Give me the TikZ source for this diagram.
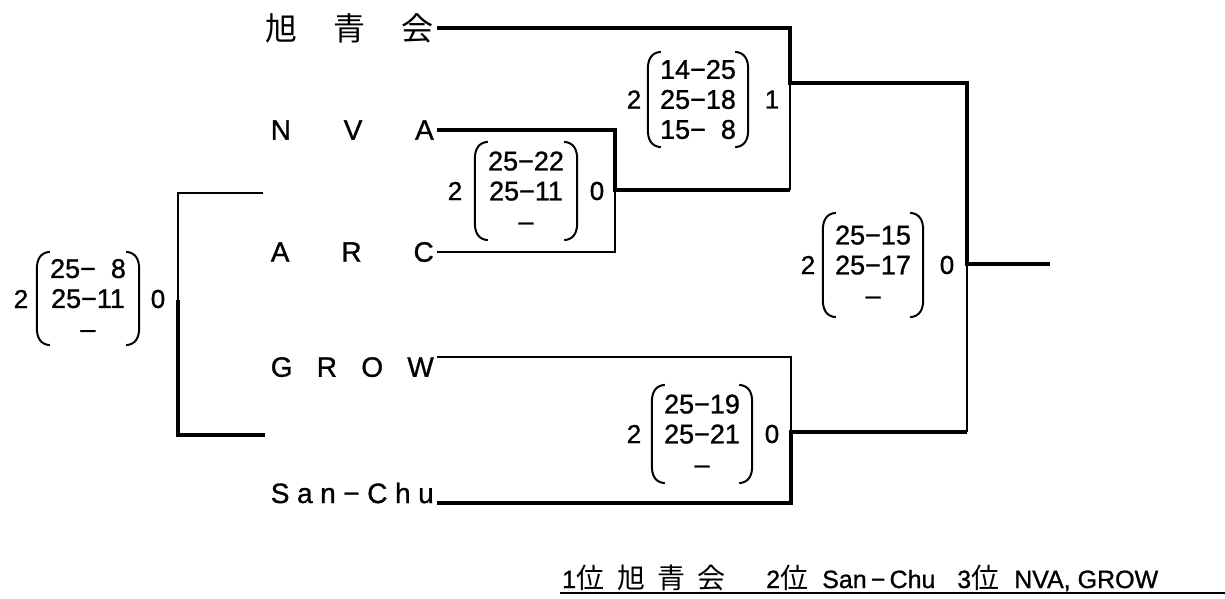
\documentclass[tikz,border=0pt]{standalone}
\usepackage{fontspec}
\setmainfont{Liberation Sans}[FakeBold=1]
\newfontfamily\jp{Noto Sans CJK JP}
\tikzset{
  wline/.style={line width=4pt, line join=miter},
  lline/.style={line width=1.8pt, line join=miter},
  paren/.style={line width=2pt},
  team/.style={inner xsep=3pt, inner ysep=0pt, font=\fontsize{28}{28}\selectfont},
  rows/.style={inner sep=0pt, align=center, font=\fontsize{27}{30}\selectfont},
  sc/.style={inner sep=0pt, font=\fontsize{26}{26}\selectfont},
  btm/.style={inner sep=0pt, anchor=base west, font=\fontsize{25}{25}\selectfont},
}
\newcommand\parens[1]{%
  \draw[paren] ([xshift=13pt]#1.north west) .. controls ([xshift=3pt,yshift=-1pt]#1.north west) and ([yshift=-8pt]#1.north west) .. ([yshift=-18pt]#1.north west) -- ([yshift=18pt]#1.south west) .. controls ([yshift=8pt]#1.south west) and ([xshift=3pt,yshift=1pt]#1.south west) .. ([xshift=13pt]#1.south west);
  \draw[paren] ([xshift=-13pt]#1.north east) .. controls ([xshift=-3pt,yshift=-1pt]#1.north east) and ([yshift=-8pt]#1.north east) .. ([yshift=-18pt]#1.north east) -- ([yshift=18pt]#1.south east) .. controls ([yshift=8pt]#1.south east) and ([xshift=-3pt,yshift=1pt]#1.south east) .. ([xshift=-13pt]#1.south east);}
\begin{document}
\begin{tikzpicture}[x=1pt,y=-1pt]
\useasboundingbox (0,0) rectangle (1225,599);
% teams
\node[team, anchor=east, font=\jp\fontsize{32}{32}\selectfont] (t1) at (437,28) {\makebox[168pt][s]{旭\hfill 青\hfill 会}};
\node[team, anchor=east] (t2) at (437,130) {\makebox[163pt][s]{N\hfill V\hfill A}};
\node[team, anchor=east] (t3) at (437,252) {\makebox[163pt][s]{A\hfill R\hfill C}};
\node[team, anchor=north east] (t4) at (437,357) {\makebox[163pt][s]{G\hfill R\hfill O\hfill W}};
\node[team, anchor=base east] (t5) at (437,503) {\makebox[163pt][s]{S\hfill a\hfill n\hfill −\hfill C\hfill h\hfill u}};
% junctions
\coordinate (qw) at (615,190);
\coordinate (s1j) at (790,83);
\coordinate (s2j) at (791,432);
\coordinate (fj) at (967,264);
\coordinate (champ) at (1050,264);
\coordinate (p3top) at (263,193);
\coordinate (p3bot) at (265,435);
\coordinate (p3j) at (178,300);
% connectors
\draw[lline] (t3.east) -| (qw);
\draw[wline] (t2.east) -| (qw) -- (qw -| s1j);
\draw[lline] (qw -| s1j) -- (s1j);
\draw[wline] (t1.east) -| (s1j) -- (s1j -| fj) -- (fj) -- (champ);
\draw[lline] (t4.north east) -| (s2j);
\draw[wline] (t5.base east) -| (s2j) -- (s2j -| fj);
\draw[lline] (s2j -| fj) -- (fj);
\draw[lline] (p3top) -| (p3j);
\draw[wline] (p3bot) -| (p3j);
% scores
\node[rows, minimum width=102pt, minimum height=93pt] (m3) at (88,298.5) {25−\hphantom{0}8\\25−11\\–};
\node[sc] (m3l) at (21,299) {2};
\node[sc] (m3r) at (158,299) {0};
\parens{m3}
\node[rows, minimum width=102pt, minimum height=98pt] (mq) at (526,191) {25−22\\25−11\\–};
\node[sc] (mql) at (455,191) {2};
\node[sc] (mqr) at (597,191) {0};
\parens{mq}
\node[rows, minimum width=100pt, minimum height=95pt] (ms1) at (698,99.5) {14−25\\25−18\\15−\hphantom{0}8};
\node[sc] (ms1l) at (634,99.5) {2};
\node[sc] (ms1r) at (772,99.5) {1};
\parens{ms1}
\node[rows, minimum width=100pt, minimum height=104pt] (mf) at (873,265) {25−15\\25−17\\–};
\node[sc] (mfl) at (808,265) {2};
\node[sc] (mfr) at (947,265) {0};
\parens{mf}
\node[rows, minimum width=100pt, minimum height=98pt] (ms2) at (702,434) {25−19\\25−21\\–};
\node[sc] (ms2l) at (634,434) {2};
\node[sc] (ms2r) at (772,434) {0};
\parens{ms2}
% bottom ranking
\node[btm] (b1) at (562,588) {1{\jp\fontsize{28}{28}\selectfont 位}};
\node[btm] (b2) at (617,588) {\jp\fontsize{28}{28}\selectfont\makebox[108pt][s]{旭\hfill 青\hfill 会}};
\node[btm] (b3) at (766,588) {2{\jp\fontsize{28}{28}\selectfont 位}};
\node[btm] (b4) at (822,588) {San\,−\,Chu};
\node[btm] (b5) at (957,588) {3{\jp\fontsize{28}{28}\selectfont 位}};
\node[btm] (b6) at (1014,588) {NVA, GROW};
\coordinate (ul1) at (560,593);
\coordinate (ul2) at (1225,593);
\draw[line width=1.8pt] (ul1) -- (ul2);
\end{tikzpicture}
\end{document}
